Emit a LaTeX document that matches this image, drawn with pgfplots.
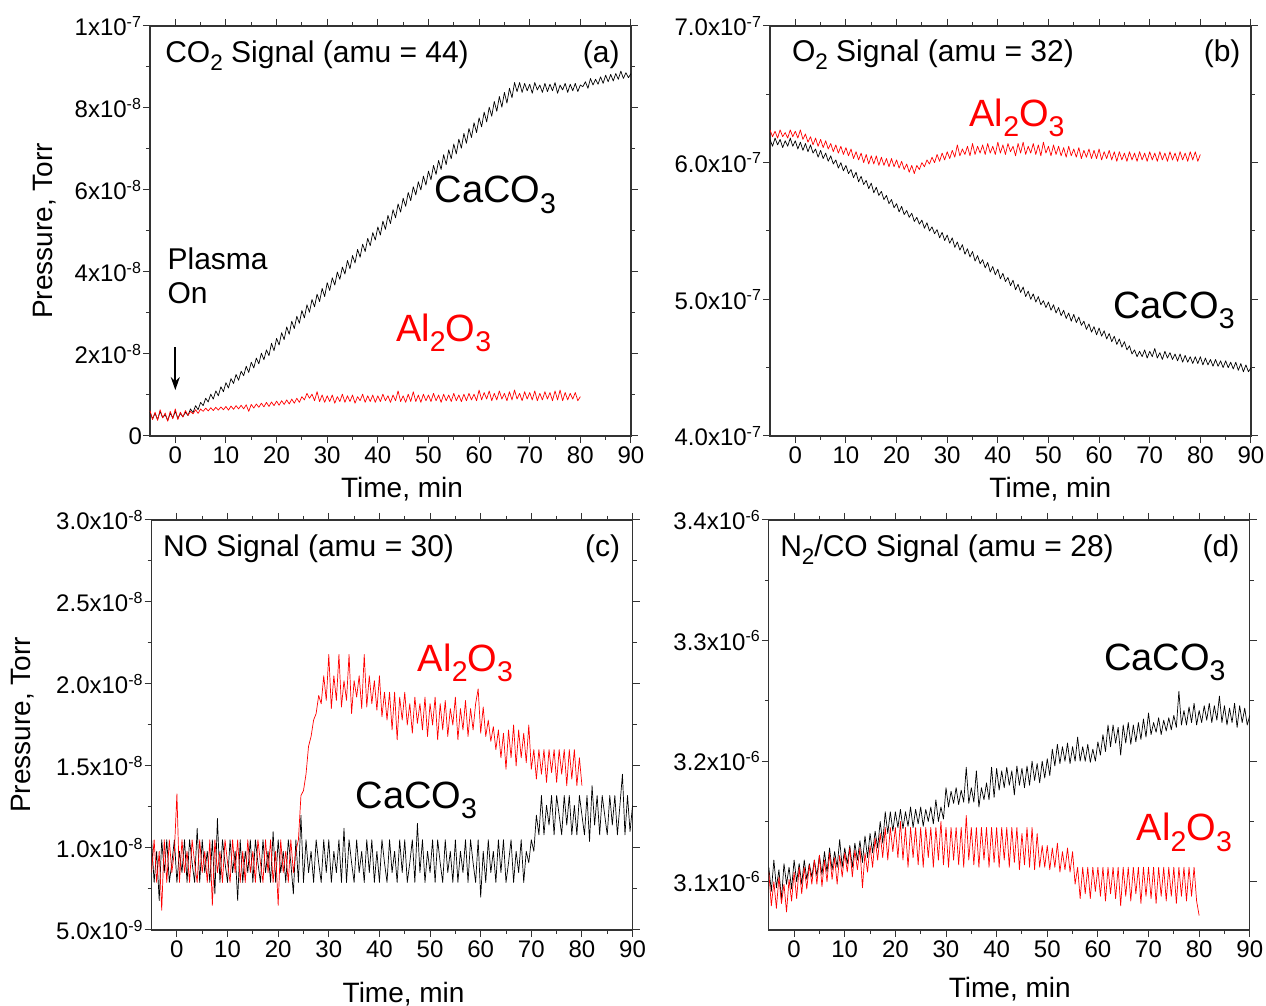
\documentclass[border=0pt]{standalone}
\usepackage{fontspec}
\setmainfont{Liberation Sans}
\usepackage{graphicx}
\usepackage{pgfplots}
\pgfplotsset{compat=1.18}
\usetikzlibrary{arrows.meta}
\newcommand{\sub}[1]{\raisebox{-0.27em}{\scalebox{0.75}{#1}}}
\pgfplotsset{
  panel/.style={
    scale only axis, width=240.5pt, height=205pt, anchor=south west,
    xmin=-5, xmax=90, xtick={0,10,...,90}, minor x tick num=1,
    tick align=outside, major tick length=3.5pt, minor tick length=2pt,
    every tick/.style={black!80, line width=0.5pt},
    axis line style={black!80, line width=0.6pt},
    tick label style={font=\fontsize{12}{14}\selectfont},
    xticklabel style={yshift=1.5pt},
    yticklabel style={xshift=3pt},
    label style={font=\fontsize{14}{16}\selectfont},
    /pgf/number format/assume math mode=true,
    xlabel={Time, min},
    every axis plot/.append style={line width=0.35pt, line join=round},
  },
}
\tikzset{
  ttl/.style={font=\fontsize{15}{17}\selectfont, inner sep=0pt},
  ann/.style={font=\fontsize{19}{22}\selectfont, inner sep=0pt},
}
\begin{document}
\begin{tikzpicture}
\useasboundingbox (0,0) rectangle (633pt,503pt);
% ---------------- (a) CO2 ----------------
\begin{axis}[panel, at={(75pt,285pt)},
  ymin=0, ymax=10, ytick={0,2,4,6,8,10}, minor y tick num=1,
  yticklabels={0,{2x10\textsuperscript{-8}},{4x10\textsuperscript{-8}},{6x10\textsuperscript{-8}},{8x10\textsuperscript{-8}},{1x10\textsuperscript{-7}}},
  ylabel={Pressure, Torr},
  ylabel style={at={([xshift=-52.5pt]axis description cs:0,0.5)}, anchor=center},
  xlabel style={at={([yshift=-26.5pt]axis description cs:0.524,0)}, anchor=center},
]
\addplot[black] coordinates {
(-5,0.58)(-4.5,0.42)(-4,0.55)(-3.5,0.40)(-3,0.60)(-2.5,0.45)(-2,0.52)(-1.5,0.38)(-1,0.56)(-0.5,0.44)(0,0.60)(0.5,0.43)(1,0.55)(1.5,0.47)(2,0.58)
(2.5,0.50)(3,0.66)(3.5,0.57)(4,0.74)(4.5,0.64)(5,0.82)(5.5,0.74)(6,0.92)(6.5,0.83)(7,1.02)(7.5,0.90)(8,1.10)(8.5,0.98)(9,1.20)(9.5,1.08)(10,1.30)
(10.5,1.17)(11,1.40)(11.5,1.28)(12,1.50)(12.5,1.36)(13,1.58)(13.5,1.47)(14,1.70)(14.5,1.55)(15,1.80)(15.5,1.66)(16,1.90)(16.5,1.76)(17,2.02)(17.5,1.86)(18,2.10)
(18.5,1.96)(19,2.26)(19.5,2.08)(20,2.38)(20.5,2.22)(21,2.52)(21.5,2.35)(22,2.66)(22.5,2.48)(23,2.80)(23.5,2.62)(24,2.92)(24.5,2.75)(25,3.06)(25.5,2.88)(26,3.20)
(26.5,3.02)(27,3.33)(27.5,3.15)(28,3.46)(28.5,3.28)(29,3.60)(29.5,3.40)(30,3.74)(30.5,3.55)(31,3.86)(31.5,3.68)(32,4.00)(32.5,3.82)(33,4.12)
(33.5,3.95)(34,4.28)(34.5,4.08)(35,4.40)(35.5,4.22)(36,4.55)(36.5,4.36)(37,4.68)(37.5,4.50)(38,4.82)(38.5,4.64)(39,4.96)(39.5,4.78)(40,5.10)
(40.5,4.90)(41,5.24)(41.5,5.04)(42,5.38)(42.5,5.18)(43,5.52)(43.5,5.32)(44,5.66)(44.5,5.46)(45,5.80)(45.5,5.60)(46,5.94)(46.5,5.74)(47,6.08)(47.5,5.88)
(48,6.20)(48.5,6.00)(49,6.34)(49.5,6.12)(50,6.46)(50.5,6.25)(51,6.60)(51.5,6.38)(52,6.72)(52.5,6.50)(53,6.86)(53.5,6.62)(54,6.98)(54.5,6.76)(55,7.12)
(55.5,6.88)(56,7.24)(56.5,7.02)(57,7.38)(57.5,7.14)(58,7.50)(58.5,7.28)(59,7.64)(59.5,7.40)(60,7.76)(60.5,7.54)(61,7.90)(61.5,7.66)(62,8.02)(62.5,7.80)(63,8.16)
(63.5,7.92)(64,8.28)(64.5,8.02)(65,8.38)(65.5,8.12)(66,8.48)(66.5,8.25)(67,8.62)
(67.5,8.40)(68,8.62)(68.5,8.38)(69,8.60)(69.5,8.42)(70,8.58)(70.5,8.36)(71,8.62)(71.5,8.44)(72,8.56)(72.5,8.38)(73,8.60)(73.5,8.40)(74,8.58)(74.5,8.42)
(75,8.62)(75.5,8.36)(76,8.56)(76.5,8.44)(77,8.60)(77.5,8.38)(78,8.58)(78.5,8.42)(79,8.60)(79.5,8.40)(80,8.56)
(80.5,8.52)(81,8.64)(81.5,8.48)(82,8.72)(82.5,8.56)(83,8.70)(83.5,8.58)(84,8.76)(84.5,8.60)(85,8.80)(85.5,8.64)(86,8.82)(86.5,8.66)(87,8.84)(87.5,8.70)
(88,8.90)(88.5,8.72)(89,8.86)(89.5,8.74)(90,8.84)};
\addplot[red] coordinates {
(-5,0.62)(-4.5,0.40)(-4,0.58)(-3.5,0.38)(-3,0.64)(-2.5,0.44)(-2,0.56)(-1.5,0.36)(-1,0.60)(-0.5,0.42)(0,0.66)(0.5,0.40)(1,0.58)(1.5,0.46)(2,0.62)
(2.5,0.50)(3,0.60)(3.5,0.54)(4,0.64)(4.5,0.55)(5,0.66)
(5.5,0.60)(6,0.68)(6.5,0.61)(7,0.69)(7.5,0.62)(8,0.70)(8.5,0.63)(9,0.71)(9.5,0.64)(10,0.72)(10.5,0.63)(11,0.73)(11.5,0.65)(12,0.74)(12.5,0.66)(13,0.75)
(13.5,0.66)(14,0.76)(14.5,0.60)(15,0.77)(15.5,0.68)(16,0.78)(16.5,0.70)(17,0.80)(17.5,0.71)(18,0.82)(18.5,0.72)(19,0.83)(19.5,0.74)(20,0.85)(20.5,0.75)
(21,0.86)(21.5,0.77)(22,0.88)(22.5,0.78)(23,0.90)(23.5,0.80)(24,0.92)(24.5,0.82)(25,0.96)
(25.5,0.88)(26,1.04)(26.5,0.92)(27,1.02)(27.5,0.86)(28,1.08)(28.5,0.84)(29,1.00)(29.5,0.82)(30,0.98)(30.5,0.84)(31,1.00)(31.5,0.80)(32,0.96)(32.5,0.84)
(33,1.02)(33.5,0.82)(34,0.98)(34.5,0.84)(35,1.00)(35.5,0.80)(36,0.96)(36.5,0.86)(37,1.02)(37.5,0.82)(38,0.98)(38.5,0.84)(39,1.00)(39.5,0.82)(40,0.98)
(40.5,0.84)(41,1.02)(41.5,0.86)(42,0.98)(42.5,0.82)(43,1.00)(43.5,0.86)(44,1.10)(44.5,0.84)(45,0.98)(45.5,0.82)(46,1.02)(46.5,0.84)(47,1.08)(47.5,0.84)
(48,1.00)(48.5,0.82)(49,1.02)(49.5,0.86)(50,1.00)(50.5,0.84)(51,1.04)(51.5,0.86)(52,1.00)(52.5,0.82)(53,1.02)(53.5,0.86)(54,1.00)(54.5,0.84)(55,1.04)
(55.5,0.86)(56,1.00)(56.5,0.84)(57,1.02)(57.5,0.86)(58,1.04)(58.5,0.88)(59,1.02)(59.5,0.86)(60,1.12)(60.5,0.88)(61,1.06)(61.5,0.90)(62,1.10)(62.5,0.86)
(63,1.04)(63.5,0.88)(64,1.10)(64.5,0.90)(65,1.04)(65.5,0.86)(66,1.08)(66.5,0.88)(67,1.12)(67.5,0.90)(68,1.04)(68.5,0.86)(69,1.08)(69.5,0.90)(70,1.06)
(70.5,0.88)(71,1.10)(71.5,0.86)(72,1.04)(72.5,0.88)(73,1.08)(73.5,0.90)(74,1.06)(74.5,0.86)(75,1.10)(75.5,0.88)(76,1.12)(76.5,0.86)(77,1.06)(77.5,0.88)
(78,1.04)(78.5,0.90)(79,1.06)(79.5,0.86)(80,0.96)};
\node[ttl, anchor=base west] at (rel axis cs:0.031,0.912) {CO\sub{2} Signal (amu = 44)};
\node[ttl, anchor=base east] at (rel axis cs:0.977,0.912) {(a)};
\node[ann] at (axis cs:63.2,5.88) {CaCO\sub{3}};
\node[ann, red] at (axis cs:53,2.51) {Al\sub{2}O\sub{3}};
\node[ttl, anchor=base west] at (axis cs:-1.6,4.05) {Plasma};
\node[ttl, anchor=base west] at (axis cs:-1.6,3.22) {On};
\draw[-{Stealth[length=6.5pt,width=4.5pt]}, line width=1pt] (axis cs:0,2.17) -- (axis cs:0,1.12);
\end{axis}
% ---------------- (b) O2 ----------------
\begin{axis}[panel, at={(385pt,285pt)},
  ymin=4, ymax=7, ytick={4,5,6,7}, minor y tick num=1,
  yticklabels={{4.0x10\textsuperscript{-7}},{5.0x10\textsuperscript{-7}},{6.0x10\textsuperscript{-7}},{7.0x10\textsuperscript{-7}}},
  xlabel style={at={([yshift=-26.5pt]axis description cs:0.583,0)}, anchor=center},
]
\addplot[black] coordinates {
(-5,6.17)(-4.5,6.12)(-4,6.18)(-3.5,6.13)(-3,6.17)(-2.5,6.11)(-2,6.16)(-1.5,6.12)(-1,6.18)(-0.5,6.12)(0,6.16)(0.5,6.10)(1,6.15)(1.5,6.09)(2,6.14)(2.5,6.08)
(3,6.13)(3.5,6.07)(4,6.10)(4.5,6.04)(5,6.09)(5.5,6.03)(6,6.07)(6.5,6.01)(7,6.05)(7.5,5.99)(8,6.02)(8.5,5.96)(9,6.00)(9.5,5.94)(10,5.98)(10.5,5.92)
(11,5.95)(11.5,5.89)(12,5.93)(12.5,5.86)(13,5.90)(13.5,5.84)(14,5.87)(14.5,5.81)(15,5.85)(15.5,5.78)(16,5.82)(16.5,5.76)(17,5.79)(17.5,5.73)(18,5.76)
(18.5,5.70)(19,5.73)(19.5,5.67)(20,5.70)(20.5,5.64)(21,5.68)(21.5,5.62)(22,5.65)(22.5,5.60)(23,5.63)(23.5,5.57)(24,5.60)(24.5,5.55)(25,5.58)(25.5,5.52)
(26,5.56)(26.5,5.50)(27,5.53)(27.5,5.48)(28,5.51)(28.5,5.45)(29,5.49)(29.5,5.43)(30,5.47)(30.5,5.41)(31,5.45)(31.5,5.38)(32,5.42)(32.5,5.36)(33,5.40)
(33.5,5.33)(34,5.37)(34.5,5.31)(35,5.35)(35.5,5.28)(36,5.32)(36.5,5.26)(37,5.29)(37.5,5.23)(38,5.27)(38.5,5.20)(39,5.24)(39.5,5.18)(40,5.22)(40.5,5.15)
(41,5.19)(41.5,5.13)(42,5.16)(42.5,5.10)(43,5.14)(43.5,5.07)(44,5.11)(44.5,5.05)(45,5.09)(45.5,5.02)(46,5.06)(46.5,5.00)(47,5.04)(47.5,4.98)(48,5.02)
(48.5,4.96)(49,4.99)(49.5,4.94)(50,4.98)(50.5,4.92)(51,4.96)(51.5,4.90)(52,4.94)(52.5,4.88)(53,4.92)(53.5,4.86)(54,4.90)(54.5,4.84)(55,4.89)(55.5,4.83)
(56,4.87)(56.5,4.81)(57,4.84)(57.5,4.78)(58,4.82)(58.5,4.76)(59,4.80)(59.5,4.74)(60,4.79)(60.5,4.73)(61,4.77)(61.5,4.71)(62,4.75)(62.5,4.69)(63,4.73)
(63.5,4.67)(64,4.71)(64.5,4.65)(65,4.69)(65.5,4.63)(66,4.66)(66.5,4.60)(67,4.63)(67.5,4.58)(68,4.62)(68.5,4.58)(69,4.63)(69.5,4.57)(70,4.62)(70.5,4.58)
(71,4.64)(71.5,4.57)(72,4.61)(72.5,4.56)(73,4.62)(73.5,4.57)(74,4.61)(74.5,4.56)(75,4.60)(75.5,4.55)(76,4.60)(76.5,4.54)(77,4.59)(77.5,4.54)(78,4.58)
(78.5,4.53)(79,4.58)(79.5,4.53)(80,4.58)(80.5,4.52)(81,4.57)(81.5,4.52)(82,4.56)(82.5,4.51)(83,4.56)(83.5,4.51)(84,4.55)(84.5,4.50)(85,4.55)(85.5,4.50)
(86,4.54)(86.5,4.49)(87,4.54)(87.5,4.48)(88,4.53)(88.5,4.47)(89,4.52)(89.5,4.47)(90,4.50)};
\addplot[red] coordinates {
(-5,6.24)(-4.5,6.19)(-4,6.23)(-3.5,6.18)(-3,6.24)(-2.5,6.19)(-2,6.22)(-1.5,6.18)(-1,6.24)(-0.5,6.19)(0,6.23)(0.5,6.18)(1,6.24)(1.5,6.17)(2,6.21)
(2.5,6.15)(3,6.19)(3.5,6.13)(4,6.18)(4.5,6.12)(5,6.17)(5.5,6.11)(6,6.16)(6.5,6.10)(7,6.14)(7.5,6.08)(8,6.13)(8.5,6.07)(9,6.12)(9.5,6.06)(10,6.11)
(10.5,6.05)(11,6.10)(11.5,6.03)(12,6.08)(12.5,6.02)(13,6.07)(13.5,6.00)(14,6.06)(14.5,5.99)(15,6.05)(15.5,5.99)(16,6.05)(16.5,5.98)(17,6.04)(17.5,5.98)
(18,6.03)(18.5,5.97)(19,6.03)(19.5,5.97)(20,6.02)(20.5,5.96)(21,6.01)(21.5,5.95)(22,5.99)(22.5,5.93)(23,5.98)(23.5,5.92)(24,5.98)(24.5,5.95)(25,6.00)
(25.5,5.97)(26,6.02)(26.5,5.99)(27,6.04)(27.5,6.00)(28,6.06)(28.5,6.01)(29,6.07)(29.5,6.02)(30,6.08)
(30.5,6.03)(31,6.09)(31.5,6.04)(32,6.13)(32.5,6.05)(33,6.10)(33.5,6.06)(34,6.12)(34.5,6.05)(35,6.14)(35.5,6.06)(36,6.12)(36.5,6.07)(37,6.13)(37.5,6.06)
(38,6.14)(38.5,6.07)(39,6.12)(39.5,6.06)(40,6.15)(40.5,6.07)(41,6.13)(41.5,6.06)(42,6.14)(42.5,6.08)(43,6.12)(43.5,6.05)(44,6.14)(44.5,6.07)(45,6.15)
(45.5,6.06)(46,6.12)(46.5,6.07)(47,6.14)(47.5,6.06)(48,6.13)(48.5,6.05)(49,6.15)(49.5,6.07)(50,6.12)
(50.5,6.05)(51,6.13)(51.5,6.06)(52,6.12)(52.5,6.05)(53,6.11)(53.5,6.04)(54,6.12)(54.5,6.05)(55,6.10)(55.5,6.04)(56,6.11)(56.5,6.03)(57,6.09)(57.5,6.04)
(58,6.10)(58.5,6.03)(59,6.09)(59.5,6.03)(60,6.10)(60.5,6.02)(61,6.08)(61.5,6.03)(62,6.09)(62.5,6.02)(63,6.08)(63.5,6.01)(64,6.08)(64.5,6.02)(65,6.07)
(65.5,6.01)(66,6.08)(66.5,6.02)(67,6.07)(67.5,6.01)(68,6.08)(68.5,6.02)(69,6.07)(69.5,6.01)(70,6.08)(70.5,6.02)(71,6.07)(71.5,6.01)(72,6.08)(72.5,6.02)
(73,6.07)(73.5,6.01)(74,6.08)(74.5,6.02)(75,6.07)(75.5,6.01)(76,6.08)(76.5,6.02)(77,6.07)(77.5,6.01)(78,6.08)(78.5,6.02)(79,6.08)(79.5,6.01)(80,6.06)};
\node[ttl, anchor=base west] at (rel axis cs:0.045,0.913) {O\sub{2} Signal (amu = 32)};
\node[ttl, anchor=base east] at (rel axis cs:0.979,0.913) {(b)};
\node[ann, red] at (axis cs:43.8,6.33) {Al\sub{2}O\sub{3}};
\node[ann] at (axis cs:74.8,4.92) {CaCO\sub{3}};
\end{axis}
% ---------------- (c) NO ----------------
\begin{axis}[panel, at={(75.8pt,38pt)},
  ymin=0.5, ymax=3, ytick={0.5,1,1.5,2,2.5,3}, minor y tick num=1,
  yticklabels={{5.0x10\textsuperscript{-9}},{1.0x10\textsuperscript{-8}},{1.5x10\textsuperscript{-8}},{2.0x10\textsuperscript{-8}},{2.5x10\textsuperscript{-8}},{3.0x10\textsuperscript{-8}}},
  ylabel={Pressure, Torr},
  ylabel style={at={([xshift=-64.5pt]axis description cs:0,0.5)}, anchor=center},
  xlabel style={at={([yshift=-32pt]axis description cs:0.524,0)}, anchor=center},
]
\addplot[black] coordinates {
(-5,1.05)(-4.5,0.79)(-4,0.98)(-3.5,0.68)(-3,1.05)(-2.5,0.85)(-2,1.05)(-1.5,0.79)(-1,0.91)(-0.5,1.05)(0,0.79)(0.5,0.98)(1,0.85)(1.5,1.05)(2,0.79)
(2.5,1.05)(3,0.91)(3.5,0.79)(4,1.12)(4.5,0.79)(5,1.05)(5.5,0.85)(6,0.98)(6.5,0.79)(7,1.05)(7.5,0.72)(8,1.18)(8.5,0.79)(9,1.05)(9.5,0.91)(10,0.79)
(10.5,1.05)(11,0.85)(11.5,0.98)(12,0.68)(12.5,1.05)(13,0.79)(13.5,0.98)(14,0.85)(14.5,1.05)(15,0.79)(15.5,1.05)(16,0.91)(16.5,0.79)(17,1.05)(17.5,0.85)
(18,0.98)(18.5,0.79)(19,1.10)(19.5,0.79)(20,1.05)(20.5,0.85)(21,0.98)(21.5,0.79)(22,1.05)(22.5,0.91)(23,0.72)(23.5,1.05)(24,0.79)(24.5,1.20)(25,0.79)
(25.5,1.05)(26,0.85)(26.5,0.98)(27,0.79)(27.5,1.05)(28,0.91)(28.5,0.79)(29,1.05)(29.5,0.85)(30,1.05)(30.5,0.79)(31,0.98)(31.5,0.85)(32,1.05)(32.5,0.79)
(33,1.12)(33.5,0.79)(34,1.05)(34.5,0.91)(35,0.79)(35.5,1.05)(36,0.85)(36.5,0.98)(37,0.79)(37.5,1.05)(38,0.85)(38.5,1.05)(39,0.79)(39.5,0.98)(40,0.79)
(40.5,1.05)(41,0.91)(41.5,0.79)(42,1.05)(42.5,0.85)(43,0.98)(43.5,0.79)(44,1.05)(44.5,0.85)(45,1.05)(45.5,0.79)(46,0.91)(46.5,1.05)(47,0.79)(47.5,1.15)
(48,0.85)(48.5,1.05)(49,0.79)(49.5,0.98)(50,0.85)(50.5,1.05)(51,0.79)(51.5,1.05)(52,0.91)(52.5,0.79)(53,1.05)(53.5,0.85)(54,0.98)(54.5,0.79)(55,1.05)
(55.5,0.79)(56,0.98)(56.5,0.85)(57,1.05)(57.5,0.79)(58,1.05)(58.5,0.91)(59,0.79)(59.5,1.05)(60,0.70)(60.5,0.98)(61,0.79)(61.5,1.05)(62,0.85)(62.5,0.98)
(63,0.79)(63.5,1.05)(64,0.85)(64.5,1.05)(65,0.79)(65.5,0.91)(66,1.05)(66.5,0.79)(67,0.98)(67.5,0.85)(68,1.05)(68.5,0.79)(69,0.98)(69.5,0.91)(70,1.05)
(70.5,0.98)(71,1.20)(71.5,1.08)(72,1.32)(72.5,1.08)(73,1.26)(73.5,1.14)(74,1.32)(74.5,1.08)(75,1.32)(75.5,1.20)(76,1.08)(76.5,1.32)(77,1.14)(77.5,1.32)
(78,1.08)(78.5,1.26)(79,1.08)(79.5,1.32)(80,1.20)(80.5,1.08)(81,1.32)(81.5,1.04)(82,1.38)(82.5,1.14)(83,1.32)(83.5,1.08)(84,1.32)(84.5,1.20)(85,1.08)
(85.5,1.32)(86,1.14)(86.5,1.32)(87,1.08)(87.5,1.26)(88,1.45)(88.5,1.08)(89,1.32)(89.5,1.10)(90,1.26)};
\addplot[red] coordinates {
(-5,0.85)(-4.5,1.05)(-4,0.79)(-3.5,0.98)(-3,0.62)(-2.5,1.05)(-2,0.79)(-1.5,1.05)(-1,0.85)(-0.5,0.98)(0,1.33)(0.5,0.79)(1,1.05)(1.5,0.85)(2,0.98)
(2.5,0.79)(3,1.05)(3.5,0.91)(4,0.79)(4.5,1.05)(5,0.85)(5.5,0.98)(6,0.79)(6.5,1.05)(7,0.65)(7.5,1.05)(8,0.85)(8.5,0.98)(9,0.79)(9.5,1.05)(10,0.91)
(10.5,0.79)(11,1.05)(11.5,0.85)(12,1.05)(12.5,0.79)(13,0.98)(13.5,0.79)(14,1.05)(14.5,0.85)(15,0.98)(15.5,0.79)(16,1.05)(16.5,0.91)(17,0.79)(17.5,1.05)
(18,0.85)(18.5,1.05)(19,0.79)(19.5,0.98)(20,0.65)(20.5,1.05)(21,0.85)(21.5,0.98)(22,0.79)(22.5,1.05)(23,0.85)(23.5,0.98)(24,1.05)(24.5,1.32)(25,1.35)
(25.5,1.45)(26,1.62)(26.5,1.68)(27,1.78)(27.5,1.82)(28,1.93)(28.5,1.88)(29,2.05)(29.5,1.90)(30,2.18)(30.5,1.85)(31,2.05)(31.5,1.90)(32,2.18)(32.5,1.86)
(33,2.02)(33.5,1.90)(34,2.18)(34.5,1.82)(35,2.02)(35.5,1.92)(36,2.05)(36.5,1.85)(37,2.18)(37.5,1.86)(38,2.05)(38.5,1.88)(39,2.02)(39.5,1.84)(40,2.05)
(40.5,1.80)(41,1.95)(41.5,1.78)(42,1.95)(42.5,1.72)(43,1.95)(43.5,1.66)(44,1.92)(44.5,1.78)(45,1.95)(45.5,1.75)(46,1.88)(46.5,1.70)(47,1.92)(47.5,1.76)
(48,1.88)(48.5,1.72)(49,1.92)(49.5,1.68)(50,1.88)(50.5,1.75)(51,1.92)(51.5,1.66)(52,1.88)(52.5,1.72)(53,1.90)(53.5,1.68)(54,1.85)(54.5,1.75)(55,1.92)
(55.5,1.66)(56,1.85)(56.5,1.72)(57,1.90)(57.5,1.68)(58,1.85)(58.5,1.72)(59,1.88)(59.5,1.97)(60,1.70)(60.5,1.86)(61,1.68)(61.5,1.78)(62,1.65)(62.5,1.74)
(63,1.60)(63.5,1.72)(64,1.55)(64.5,1.70)(65,1.48)(65.5,1.72)(66,1.55)(66.5,1.75)(67,1.50)(67.5,1.72)(68,1.55)(68.5,1.70)(69,1.52)(69.5,1.75)(70,1.48)
(70.5,1.60)(71,1.42)(71.5,1.60)(72,1.45)(72.5,1.60)(73,1.40)(73.5,1.60)(74,1.46)(74.5,1.60)(75,1.40)(75.5,1.60)(76,1.45)(76.5,1.60)(77,1.38)(77.5,1.60)
(78,1.42)(78.5,1.60)(79,1.38)(79.5,1.55)(80,1.38)};
\node[ttl, anchor=base west] at (rel axis cs:0.023,0.911) {NO Signal (amu = 30)};
\node[ttl, anchor=base east] at (rel axis cs:0.975,0.911) {(c)};
\node[ann, red] at (axis cs:57,2.13) {Al\sub{2}O\sub{3}};
\node[ann] at (axis cs:47.3,1.29) {CaCO\sub{3}};
\end{axis}
% ---------------- (d) N2/CO ----------------
\begin{axis}[panel, at={(384.4pt,38pt)},
  ymin=3.06, ymax=3.4, ytick={3.1,3.2,3.3,3.4}, minor ytick={3.15,3.25,3.35},
  yticklabels={{3.1x10\textsuperscript{-6}},{3.2x10\textsuperscript{-6}},{3.3x10\textsuperscript{-6}},{3.4x10\textsuperscript{-6}}},
  xlabel style={at={([yshift=-29.5pt]axis description cs:0.501,0)}, anchor=center},
]
\addplot[black] coordinates {
(-5,3.112)(-4.5,3.092)(-4,3.118)(-3.5,3.095)(-3,3.110)(-2.5,3.085)(-2,3.115)(-1.5,3.098)(-1,3.112)(-0.5,3.094)(0,3.118)(0.5,3.100)(1,3.115)(1.5,3.098)
(2,3.118)(2.5,3.102)(3,3.115)(3.5,3.104)(4,3.118)(4.5,3.105)(5,3.122)(5.5,3.106)(6,3.125)(6.5,3.108)(7,3.128)(7.5,3.110)(8,3.125)(8.5,3.112)(9,3.135)
(9.5,3.112)(10,3.128)(10.5,3.115)(11,3.130)(11.5,3.112)(12,3.132)(12.5,3.118)(13,3.134)(13.5,3.116)(14,3.138)(14.5,3.120)(15,3.140)(15.5,3.124)(16,3.142)
(16.5,3.128)(17,3.150)(17.5,3.132)(18,3.158)(18.5,3.140)(19,3.158)(19.5,3.142)(20,3.158)(20.5,3.145)(21,3.160)(21.5,3.144)(22,3.158)(22.5,3.146)(23,3.162)
(23.5,3.145)(24,3.160)(24.5,3.148)(25,3.162)(25.5,3.146)(26,3.160)(26.5,3.150)(27,3.162)(27.5,3.148)(28,3.168)(28.5,3.150)(29,3.162)(29.5,3.152)(30,3.178)
(30.5,3.162)(31,3.175)(31.5,3.165)(32,3.178)(32.5,3.164)(33,3.176)(33.5,3.166)(34,3.195)(34.5,3.165)(35,3.178)(35.5,3.166)(36,3.192)(36.5,3.162)(37,3.178)
(37.5,3.168)(38,3.182)(38.5,3.168)(39,3.195)(39.5,3.170)(40,3.194)(40.5,3.176)(41,3.192)(41.5,3.178)(42,3.195)(42.5,3.180)(43,3.192)(43.5,3.172)(44,3.196)
(44.5,3.180)(45,3.194)(45.5,3.178)(46,3.196)(46.5,3.180)(47,3.200)(47.5,3.184)(48,3.198)(48.5,3.182)(49,3.200)(49.5,3.186)(50,3.202)(50.5,3.188)(51,3.210)
(51.5,3.196)(52,3.214)(52.5,3.198)(53,3.212)(53.5,3.200)(54,3.215)(54.5,3.198)(55,3.212)(55.5,3.200)(56,3.220)(56.5,3.200)(57,3.212)(57.5,3.200)(58,3.214)
(58.5,3.199)(59,3.210)(59.5,3.200)(60,3.216)(60.5,3.205)(61,3.222)(61.5,3.208)(62,3.230)(62.5,3.212)(63,3.230)(63.5,3.215)(64,3.228)(64.5,3.205)(65,3.230)
(65.5,3.215)(66,3.232)(66.5,3.214)(67,3.230)(67.5,3.216)(68,3.232)(68.5,3.218)(69,3.235)(69.5,3.220)(70,3.240)(70.5,3.222)(71,3.232)(71.5,3.224)(72,3.236)
(72.5,3.222)(73,3.234)(73.5,3.225)(74,3.236)(74.5,3.226)(75,3.238)(75.5,3.228)(76,3.258)(76.5,3.230)(77,3.242)(77.5,3.230)(78,3.245)(78.5,3.232)(79,3.248)
(79.5,3.230)(80,3.242)(80.5,3.232)(81,3.246)(81.5,3.234)(82,3.248)(82.5,3.232)(83,3.246)(83.5,3.234)(84,3.254)(84.5,3.232)(85,3.246)(85.5,3.230)(86,3.244)
(86.5,3.232)(87,3.248)(87.5,3.228)(88,3.246)(88.5,3.232)(89,3.244)(89.5,3.230)(90,3.238)};
\addplot[red] coordinates {
(-5,3.108)(-4.5,3.080)(-4,3.100)(-3.5,3.078)(-3,3.104)(-2.5,3.082)(-2,3.098)(-1.5,3.075)(-1,3.102)(-0.5,3.084)(0,3.108)(0.5,3.086)(1,3.112)(1.5,3.090)
(2,3.112)(2.5,3.094)(3,3.114)(3.5,3.098)(4,3.118)(4.5,3.098)(5,3.122)(5.5,3.096)(6,3.118)(6.5,3.100)(7,3.124)(7.5,3.102)(8,3.120)(8.5,3.098)(9,3.122)
(9.5,3.104)(10,3.124)(10.5,3.108)(11,3.128)(11.5,3.104)(12,3.126)(12.5,3.110)(13,3.128)(13.5,3.095)(14,3.124)(14.5,3.108)(15,3.130)(15.5,3.112)(16,3.136)
(16.5,3.118)(17,3.140)(17.5,3.120)(18,3.145)(18.5,3.118)(19,3.145)(19.5,3.125)(20,3.145)(20.5,3.120)(21,3.150)(21.5,3.118)(22,3.145)(22.5,3.112)(23,3.145)
(23.5,3.120)(24,3.145)(24.5,3.114)(25,3.145)(25.5,3.112)(26,3.145)(26.5,3.120)(27,3.145)(27.5,3.112)(28,3.145)(28.5,3.118)(29,3.150)(29.5,3.114)(30,3.145)
(30.5,3.112)(31,3.145)(31.5,3.118)(32,3.145)(32.5,3.114)(33,3.145)(33.5,3.112)(34,3.155)(34.5,3.118)(35,3.145)(35.5,3.114)(36,3.145)(36.5,3.112)(37,3.145)
(37.5,3.118)(38,3.145)(38.5,3.112)(39,3.145)(39.5,3.116)(40,3.145)(40.5,3.112)(41,3.145)(41.5,3.118)(42,3.145)(42.5,3.112)(43,3.145)(43.5,3.116)(44,3.145)
(44.5,3.110)(45,3.140)(45.5,3.114)(46,3.145)(46.5,3.112)(47,3.145)(47.5,3.110)(48,3.140)(48.5,3.112)(49,3.130)(49.5,3.112)(50,3.130)(50.5,3.110)(51,3.128)
(51.5,3.112)(52,3.132)(52.5,3.108)(53,3.125)(53.5,3.110)(54,3.128)(54.5,3.108)(55,3.125)(55.5,3.098)(56,3.112)(56.5,3.086)(57,3.112)(57.5,3.090)(58,3.112)
(58.5,3.086)(59,3.112)(59.5,3.092)(60,3.112)(60.5,3.088)(61,3.112)(61.5,3.084)(62,3.112)(62.5,3.090)(63,3.112)(63.5,3.086)(64,3.112)(64.5,3.080)(65,3.112)
(65.5,3.088)(66,3.112)(66.5,3.084)(67,3.112)(67.5,3.090)(68,3.112)(68.5,3.082)(69,3.112)(69.5,3.088)(70,3.112)(70.5,3.086)(71,3.112)(71.5,3.082)(72,3.112)
(72.5,3.088)(73,3.112)(73.5,3.084)(74,3.112)(74.5,3.088)(75,3.112)(75.5,3.082)(76,3.112)(76.5,3.088)(77,3.112)(77.5,3.084)(78,3.112)(78.5,3.088)(79,3.112)
(79.5,3.084)(80,3.072)};
\node[ttl, anchor=base west] at (rel axis cs:0.023,0.912) {N\sub{2}/CO Signal (amu = 28)};
\node[ttl, anchor=base east] at (rel axis cs:0.979,0.912) {(d)};
\node[ann] at (axis cs:73.2,3.282) {CaCO\sub{3}};
\node[ann, red] at (axis cs:77.1,3.141) {Al\sub{2}O\sub{3}};
\end{axis}
\end{tikzpicture}
\end{document}
